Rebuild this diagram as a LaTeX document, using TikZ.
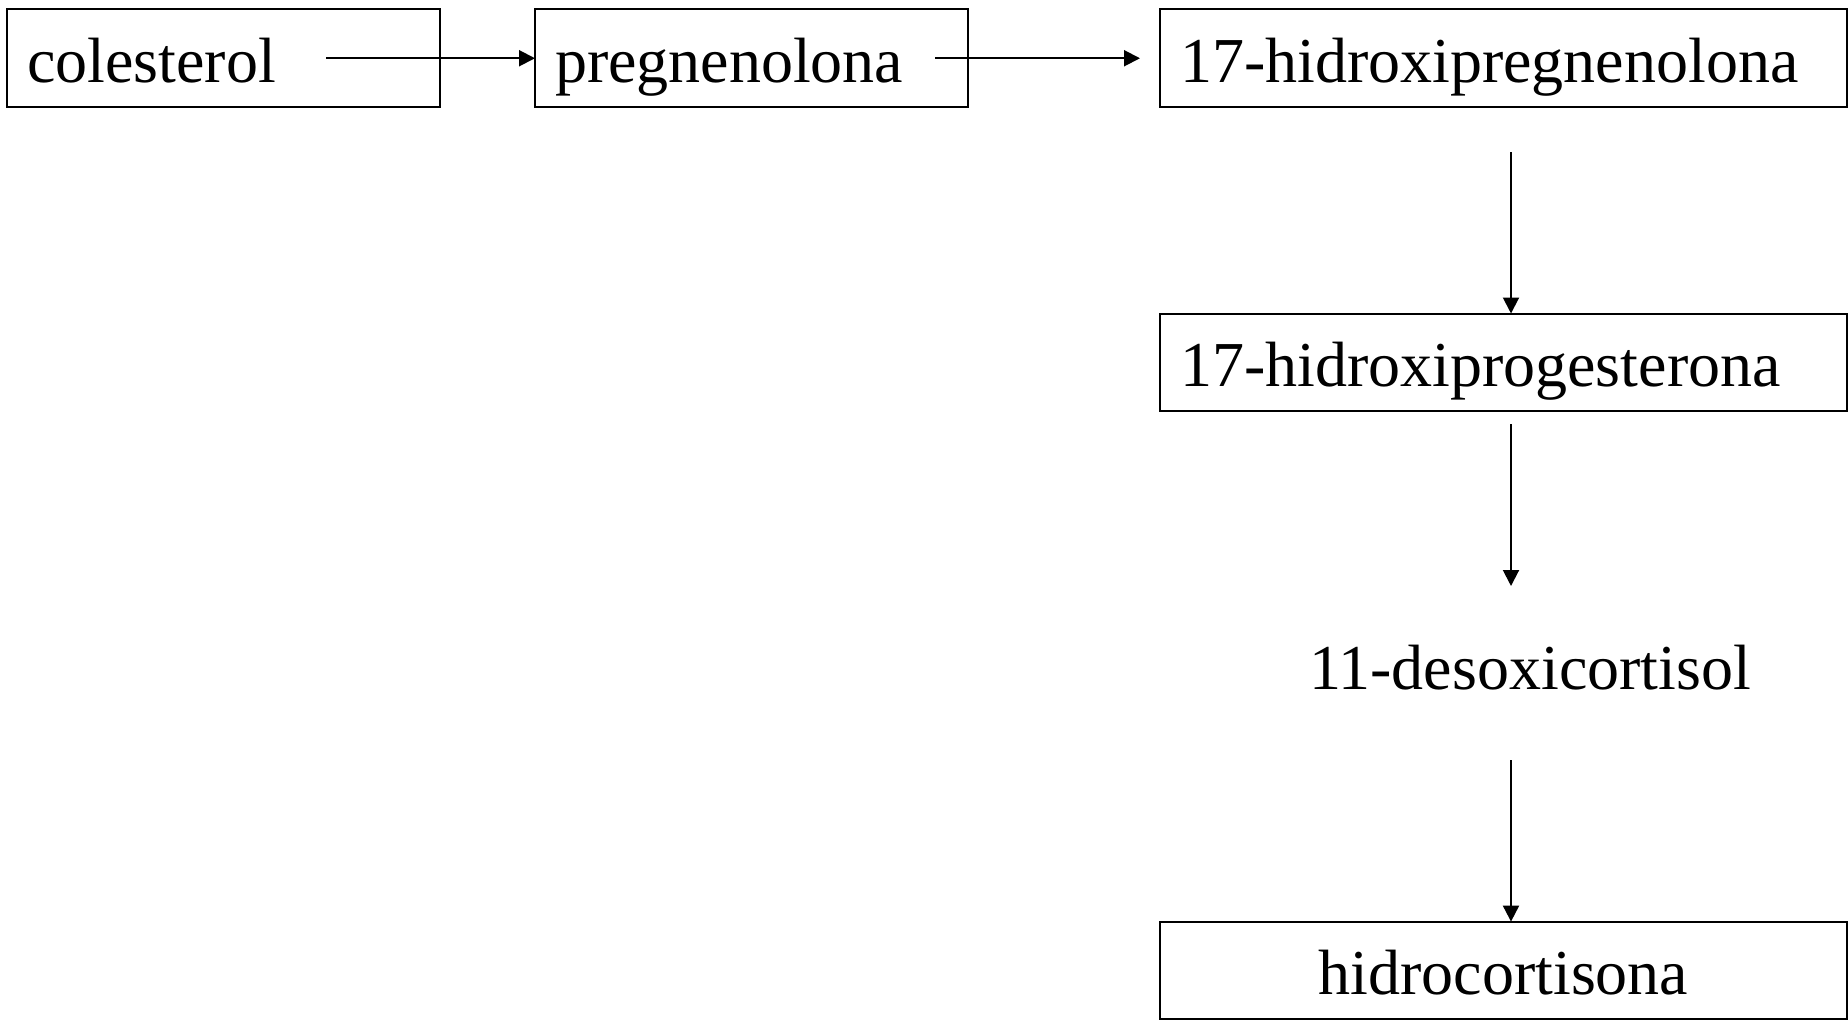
\documentclass[tikz,border=0pt]{standalone}
\usepackage{fontspec}
\setmainfont{Liberation Serif}
\usetikzlibrary{arrows.meta,calc}
\begin{document}
\begin{tikzpicture}[x=0.5pt,y=-0.5pt,
  lbl/.style={font=\fontsize{32}{38}\selectfont, text height=27.2pt, text depth=3.2pt},
  box/.style={lbl, draw, line width=1pt, outer sep=0pt, inner xsep=10pt, inner ysep=0pt,
    minimum height=48.75pt, anchor=north west, align=left},
  narrowbox/.style={box, text width=196.5pt, minimum width=216.5pt},
  widebox/.style={box, text width=323.5pt, minimum width=343.5pt},
  arr/.style={line width=1pt, -{Triangle[length=8pt,width=8pt]}}]
\fill[white] (0,0) rectangle (1848,1022);
\useasboundingbox (0,0) rectangle (1848,1022);
\node[narrowbox] (B1) at (7,9.5) {colesterol};
\node[narrowbox] (B2) at (535,9.5) {pregnenolona};
\node[widebox] (B3) at (1160,9.5) {17-hidroxipregnenolona};
\node[widebox] (B4) at (1160,313.5) {17-hidroxiprogesterona};
\node[lbl, text height=19.2pt, text depth=3.2pt, minimum height=87pt, inner sep=0pt, outer sep=0pt] (D) at (1530,673) {11-desoxicortisol};
\node[widebox, align=center] (B5) at (1160,921.6) {hidrocortisona};
\coordinate (ax) at (1511,0);
\draw[arr] ($(B1.east)+(-114,0)$) -- (B2.west);
\draw[arr] ($(B2.east)+(-33,0)$) -- ($(B3.west)+(-20,0)$);
\draw[arr] ($(ax |- B3.south)+(0,45.5)$) -- (ax |- B4.north);
\draw[arr] ($(ax |- B4.south)+(0,13)$) -- (ax |- D.north);
\draw[arr] (ax |- D.south) -- (ax |- B5.north);
\end{tikzpicture}
\end{document}
